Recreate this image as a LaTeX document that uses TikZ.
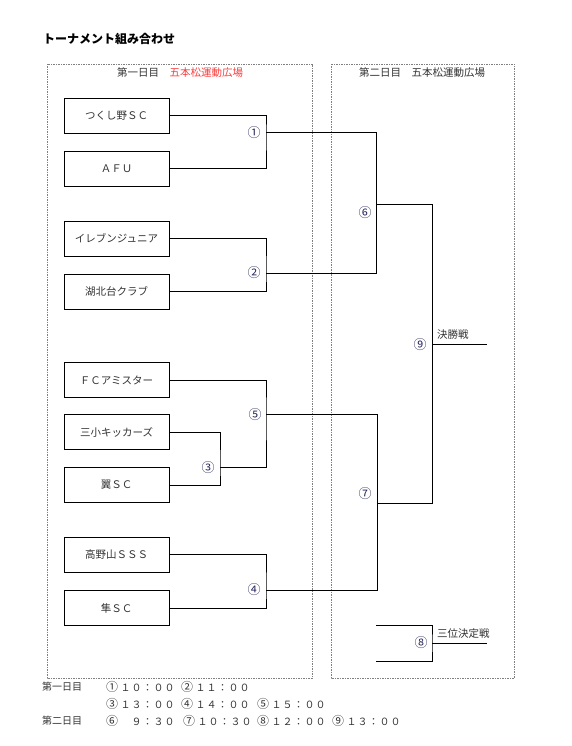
\documentclass[tikz,border=0pt]{standalone}
\usepackage{fontspec}
\newfontfamily\cjk{Noto Sans CJK JP}
\definecolor{hdrred}{RGB}{250,60,60}
\definecolor{txt}{RGB}{50,50,50}
\newcommand\pitchw{11pt}
\def\pitch#1{\ifx#1\relax\else\makebox[\pitchw]{#1}\expandafter\pitch\fi}
\newcommand\grp[2]{\makebox[14pt][l]{\fontsize{12}{12}\selectfont#1}\pitch#2\relax}
\tikzset{
  team/.style={draw, line width=0.8pt, minimum width=105pt, minimum height=35pt, inner sep=0pt,
    text=txt, font=\cjk\fontsize{10.5}{12}\selectfont},
  wire/.style={line width=1pt},
  frame/.style={draw=gray, line width=0.6pt, dash pattern=on 1.5pt off 1pt},
  num/.style={inner sep=0pt, text=txt!80!blue, font=\cjk\fontsize{13}{14}\selectfont},
  lbl/.style={inner sep=0pt, text=txt, font=\cjk\fontsize{10.5}{12}\selectfont},
  foot/.style={inner sep=0pt, anchor=west, text=txt, font=\cjk\fontsize{10}{12}\selectfont},
}
\begin{document}
\begin{tikzpicture}[x=1pt,y=-1pt]
\useasboundingbox (0,0) rectangle (571,746);
% title
\node[anchor=west, inner sep=0pt, font=\cjk\bfseries\fontsize{12}{14}\selectfont] (title) at (43,39) {トーナメント組み合わせ};
% frames
\draw[frame] (47,64) rectangle (312,678);
\draw[frame] (331,64) rectangle (514,678);
\node[lbl] (hdr1) at (180,73) {第一日目　\textcolor{hdrred}{五本松運動広場}};
\node[lbl] (hdr2) at (422,73) {第二日目　五本松運動広場};
% teams
\node[team] (t1) at (116.5,115.5) {つくし野ＳＣ};
\node[team] (t2) at (116.5,169) {ＡＦＵ};
\node[team] (t3) at (116.5,238.5) {イレブンジュニア};
\node[team] (t4) at (116.5,291.5) {湖北台クラブ};
\node[team] (t5) at (116.5,380) {ＦＣアミスター};
\node[team] (t6) at (116.5,432) {三小キッカーズ};
\node[team] (t7) at (116.5,485) {翼ＳＣ};
\node[team] (t8) at (116.5,554.5) {高野山ＳＳＳ};
\node[team] (t9) at (116.5,608) {隼ＳＣ};
% junctions
\coordinate (m1) at (266,133);
\coordinate (m2) at (266,273);
\coordinate (m3) at (220,467);
\coordinate (m4) at (266,590);
\coordinate (m5) at (266,414);
\coordinate (m6) at (376,204);
\coordinate (m7) at (377,503);
\coordinate (m9) at (432,344);
\coordinate (fin) at (487,344);
\coordinate (s1) at (376,625);
\coordinate (s2) at (376,661);
\coordinate (m8) at (432,643);
\coordinate (s3) at (487,643);
% brackets
\draw[wire] (t1.east) -| (m1) |- (t2.east);
\draw[wire] (t3.east) -| (m2) |- (t4.east);
\draw[wire] (t6.east) -| (m3) |- (t7.east);
\draw[wire] (t5.east) -| (m5) |- (m3);
\draw[wire] (t8.east) -| (m4) |- (t9.east);
\draw[wire] (m1) -| (m6);
\draw[wire] (m2) -| (m6);
\draw[wire] (m5) -| (m7);
\draw[wire] (m4) -| (m7);
\draw[wire] (m6) -| (m9);
\draw[wire] (m7) -| (m9);
\draw[wire] (m9) -- (fin);
\draw[wire] (s1) -| (m8) |- (s2);
\draw[wire] (m8) -- (s3);
% match numbers
\node[num] (n1) at (254,133) {①};
\node[num] (n2) at (254,273) {②};
\node[num] (n3) at (208,468) {③};
\node[num] (n4) at (254,590) {④};
\node[num] (n5) at (255,415) {⑤};
\node[num] (n6) at (365,213) {⑥};
\node[num] (n7) at (365,494) {⑦};
\node[num] (n8) at (421,643) {⑧};
\node[num] (n9) at (420,345) {⑨};
\node[lbl, anchor=west] (final) at (437,335) {決勝戦};
\node[lbl, anchor=west] (third) at (437,634) {三位決定戦};
% schedule
\node[foot] (d1) at (42,687) {第一日目};
\node[foot] (g1) at (106,687) {\grp{①}{１０：００}};
\node[foot] (g2) at (181,687) {\grp{②}{１１：００}};
\node[foot] (g3) at (106,704) {\grp{③}{１３：００}};
\node[foot] (g4) at (181,704) {\grp{④}{１４：００}};
\node[foot] (g5) at (257,704) {\grp{⑤}{１５：００}};
\node[foot] (d2) at (42,721) {第二日目};
\node[foot] (g6) at (106,721) {\grp{⑥}{　９：３０}};
\node[foot] (g7) at (183,721) {\grp{⑦}{１０：３０}};
\node[foot] (g8) at (257,721) {\grp{⑧}{１２：００}};
\node[foot] (g9) at (332,721) {\grp{⑨}{１３：００}};
\end{tikzpicture}
\end{document}
